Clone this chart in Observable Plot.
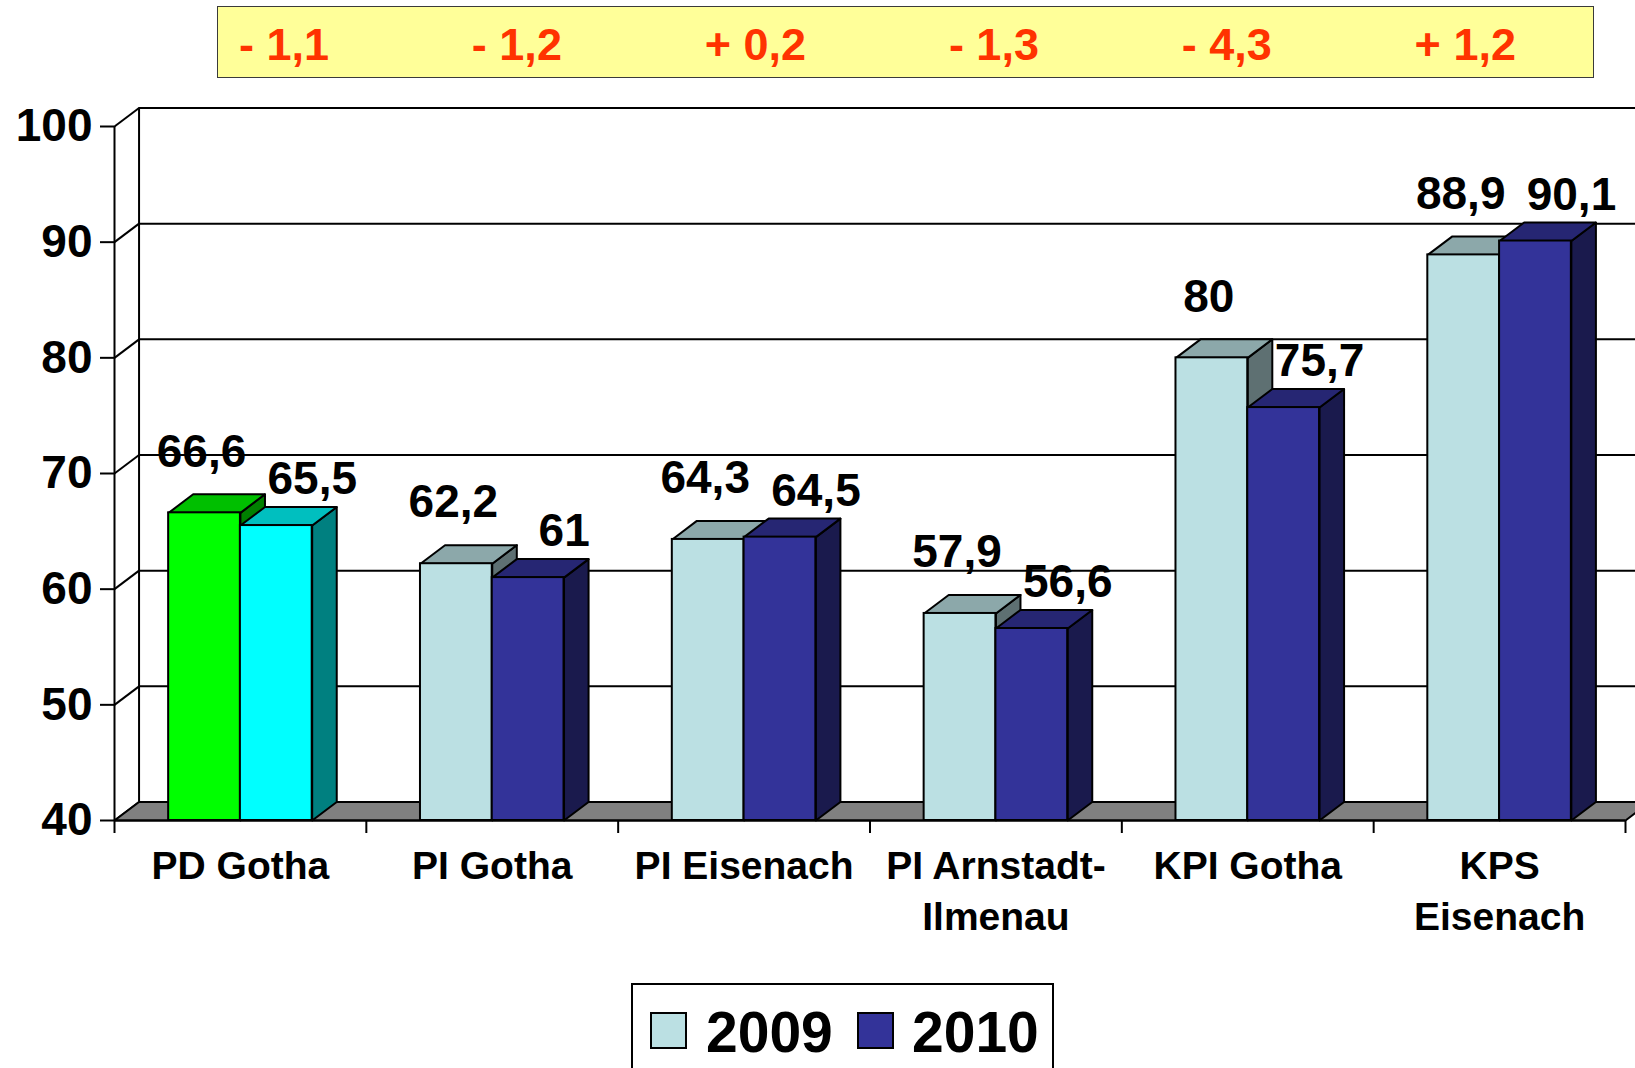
<!DOCTYPE html>
<html>
<head>
<meta charset="utf-8">
<script src="https://cdn.jsdelivr.net/npm/d3@7"></script>
<script src="https://cdn.jsdelivr.net/npm/@observablehq/plot@0.6"></script>
<style>
  html, body { margin: 0; padding: 0; background: #fff; width: 1635px; height: 1068px; overflow: hidden;
    font-family: Arial, "Liberation Sans", sans-serif; font-weight: bold; position: relative; }
  #diff { position: absolute; left: 217px; top: 6px; width: 1377px; height: 72px; box-sizing: border-box;
    border: 1.5px solid #3a3a3a; background: #FFFF99; display: flex; justify-content: space-between;
    align-items: center; padding: 6px 77px 0 21px; color: #FF3300; font-size: 45px; white-space: pre; }
  #chart { position: absolute; left: 0; top: 80px; }
  #legend { position: absolute; left: 631px; top: 983px; width: 423px; height: 130px; box-sizing: border-box;
    border: 2px solid #000; background: #fff; }
  #legend .sw { position: absolute; top: 27px; width: 37px; height: 37px; box-sizing: border-box; border: 2px solid #000; }
  #legend .lt { position: absolute; top: 14px; font-size: 57px; line-height: normal; color: #000; }
</style>
</head>
<body>
<div id="diff"></div>
<div id="chart"></div>
<div id="legend"></div>
<script>
// ---- data ----
const categories = ["PD Gotha", "PI Gotha", "PI Eisenach", "PI Arnstadt-\nIlmenau", "KPI Gotha", "KPS\nEisenach"];
const seriesNames = ["2009", "2010"];
const values2009 = [66.6, 62.2, 64.3, 57.9, 80, 88.9];
const values2010 = [65.5, 61, 64.5, 56.6, 75.7, 90.1];
const yTicks = [40, 50, 60, 70, 80, 90, 100];

// ---- styles ----
const seriesColors = ["#BBE0E3", "#333399"];
const highlightColors = ["#00FF00", "#00FFFF"]; // first category is highlighted
const BAR_W = 0.285;      // bar width in category units
const DEPTH_X = 0.0975;   // 3D depth, category units
const DEPTH_Y = 1.6;      // 3D depth, value units
const BASE = 40, TOP = 100;

const fmt = v => String(v).replace(".", ",");
const shade = (c, k) => { const r = d3.rgb(c); return d3.rgb(r.r * k, r.g * k, r.b * k).formatHex(); };

// ---- yellow difference box ----
const diffBox = document.getElementById("diff");
categories.forEach((c, i) => {
  const d = Math.round((values2010[i] - values2009[i]) * 10) / 10;
  const s = document.createElement("span");
  s.textContent = (d < 0 ? "- " : "+ ") + Math.abs(d).toFixed(1).replace(".", ",");
  diffBox.appendChild(s);
});

// ---- geometry built from data ----
const series = [values2009, values2010];
const bars = [];
categories.forEach((c, i) => {
  series.forEach((vals, s) => {
    const x1 = i + 0.5 - BAR_W + s * BAR_W;
    const front = (i === 0 ? highlightColors : seriesColors)[s];
    bars.push({ id: `${i}-${s}`, i, s, x1, x2: x1 + BAR_W, v: vals[i], label: fmt(vals[i]), front });
  });
});
const poly = (b, pts, fill) => pts.map(([x, y]) => ({ id: b.id, x, y, fill }));
const sides = bars.flatMap(b => poly(b, [[b.x2, BASE], [b.x2, b.v], [b.x2 + DEPTH_X, b.v + DEPTH_Y], [b.x2 + DEPTH_X, BASE + DEPTH_Y]], shade(b.front, 0.5)));
const tops = bars.flatMap(b => poly(b, [[b.x1, b.v], [b.x2, b.v], [b.x2 + DEPTH_X, b.v + DEPTH_Y], [b.x1 + DEPTH_X, b.v + DEPTH_Y]], shade(b.front, 0.75)));
const n = categories.length;
const floor = [[0, BASE], [n, BASE], [n + DEPTH_X, BASE + DEPTH_Y], [DEPTH_X, BASE + DEPTH_Y]].map(([x, y]) => ({ x, y }));

const chart = Plot.plot({
  width: 1635,
  height: 900,
  marginLeft: 114,
  marginRight: 10,
  marginTop: 46,
  marginBottom: 160,
  x: { type: "linear", domain: [0, n] },
  y: { type: "linear", domain: [BASE, TOP] },
  color: { type: "identity" },
  style: { fontFamily: 'Arial, "Liberation Sans", sans-serif', fontWeight: "bold", background: "transparent", overflow: "visible", color: "#000" },
  marks: [
    // back wall gridlines
    Plot.ruleY(yTicks, { y: d => d + DEPTH_Y, x1: () => DEPTH_X, x2: () => n + DEPTH_X, stroke: "#000", strokeWidth: 2 }),
    // left side wall
    Plot.link(yTicks, { x1: () => 0, y1: d => d, x2: () => DEPTH_X, y2: d => d + DEPTH_Y, stroke: "#000", strokeWidth: 2 }),
    Plot.ruleX([DEPTH_X], { y1: () => BASE + DEPTH_Y, y2: () => TOP + DEPTH_Y, stroke: "#000", strokeWidth: 2 }),
    // floor
    Plot.line(floor, { x: "x", y: "y", fill: "#808080", stroke: "#000", strokeWidth: 2, curve: "linear-closed" }),
    // bars
    Plot.line(sides, { x: "x", y: "y", z: "id", fill: "fill", stroke: "#000", strokeWidth: 2, curve: "linear-closed", strokeLinejoin: "round" }),
    Plot.line(tops, { x: "x", y: "y", z: "id", fill: "fill", stroke: "#000", strokeWidth: 2, curve: "linear-closed", strokeLinejoin: "round" }),
    Plot.rect(bars, { x1: "x1", x2: "x2", y1: () => BASE, y2: "v", fill: "front", stroke: "#000", strokeWidth: 2 }),
    // axes
    Plot.ruleX([0], { y1: () => BASE, y2: () => TOP, stroke: "#000", strokeWidth: 2 }),
    Plot.ruleY([BASE], { x1: () => 0, x2: () => n, stroke: "#000", strokeWidth: 2 }),
    Plot.axisY({ ticks: yTicks, tickSize: 14, tickPadding: 8, fontSize: 46, strokeWidth: 2, label: null, tickFormat: d => String(d) }),
    Plot.axisX({ ticks: d3.range(0, n + 1), tickSize: 13, strokeWidth: 2, label: null, tickFormat: () => "" }),
    // category labels
    Plot.text(categories, { x: (d, i) => i + 0.5, y: () => BASE, text: d => d, lineAnchor: "top", dy: 22, fontSize: 39, lineHeight: 1.31, fill: "#000" }),
    // value labels
    Plot.text(bars.filter(b => b.s === 0), { x: b => (b.x1 + b.x2) / 2, y: "v", text: "label", dx: -3, dy: -61, fontSize: 46, fill: "#000" }),
    Plot.text(bars.filter(b => b.s === 1), { x: b => (b.x1 + b.x2) / 2, y: "v", text: "label", dx: 36, dy: -46, fontSize: 46, fill: "#000" })
  ]
});
document.getElementById("chart").appendChild(chart);

// ---- legend ----
const legend = document.getElementById("legend");
const swLeft = [17, 224], txtLeft = [73, 279];
seriesNames.forEach((name, s) => {
  const sw = document.createElement("div");
  sw.className = "sw"; sw.style.left = swLeft[s] + "px"; sw.style.background = seriesColors[s];
  const t = document.createElement("div");
  t.className = "lt"; t.style.left = txtLeft[s] + "px"; t.textContent = name;
  legend.appendChild(sw); legend.appendChild(t);
});
</script>
</body>
</html>
